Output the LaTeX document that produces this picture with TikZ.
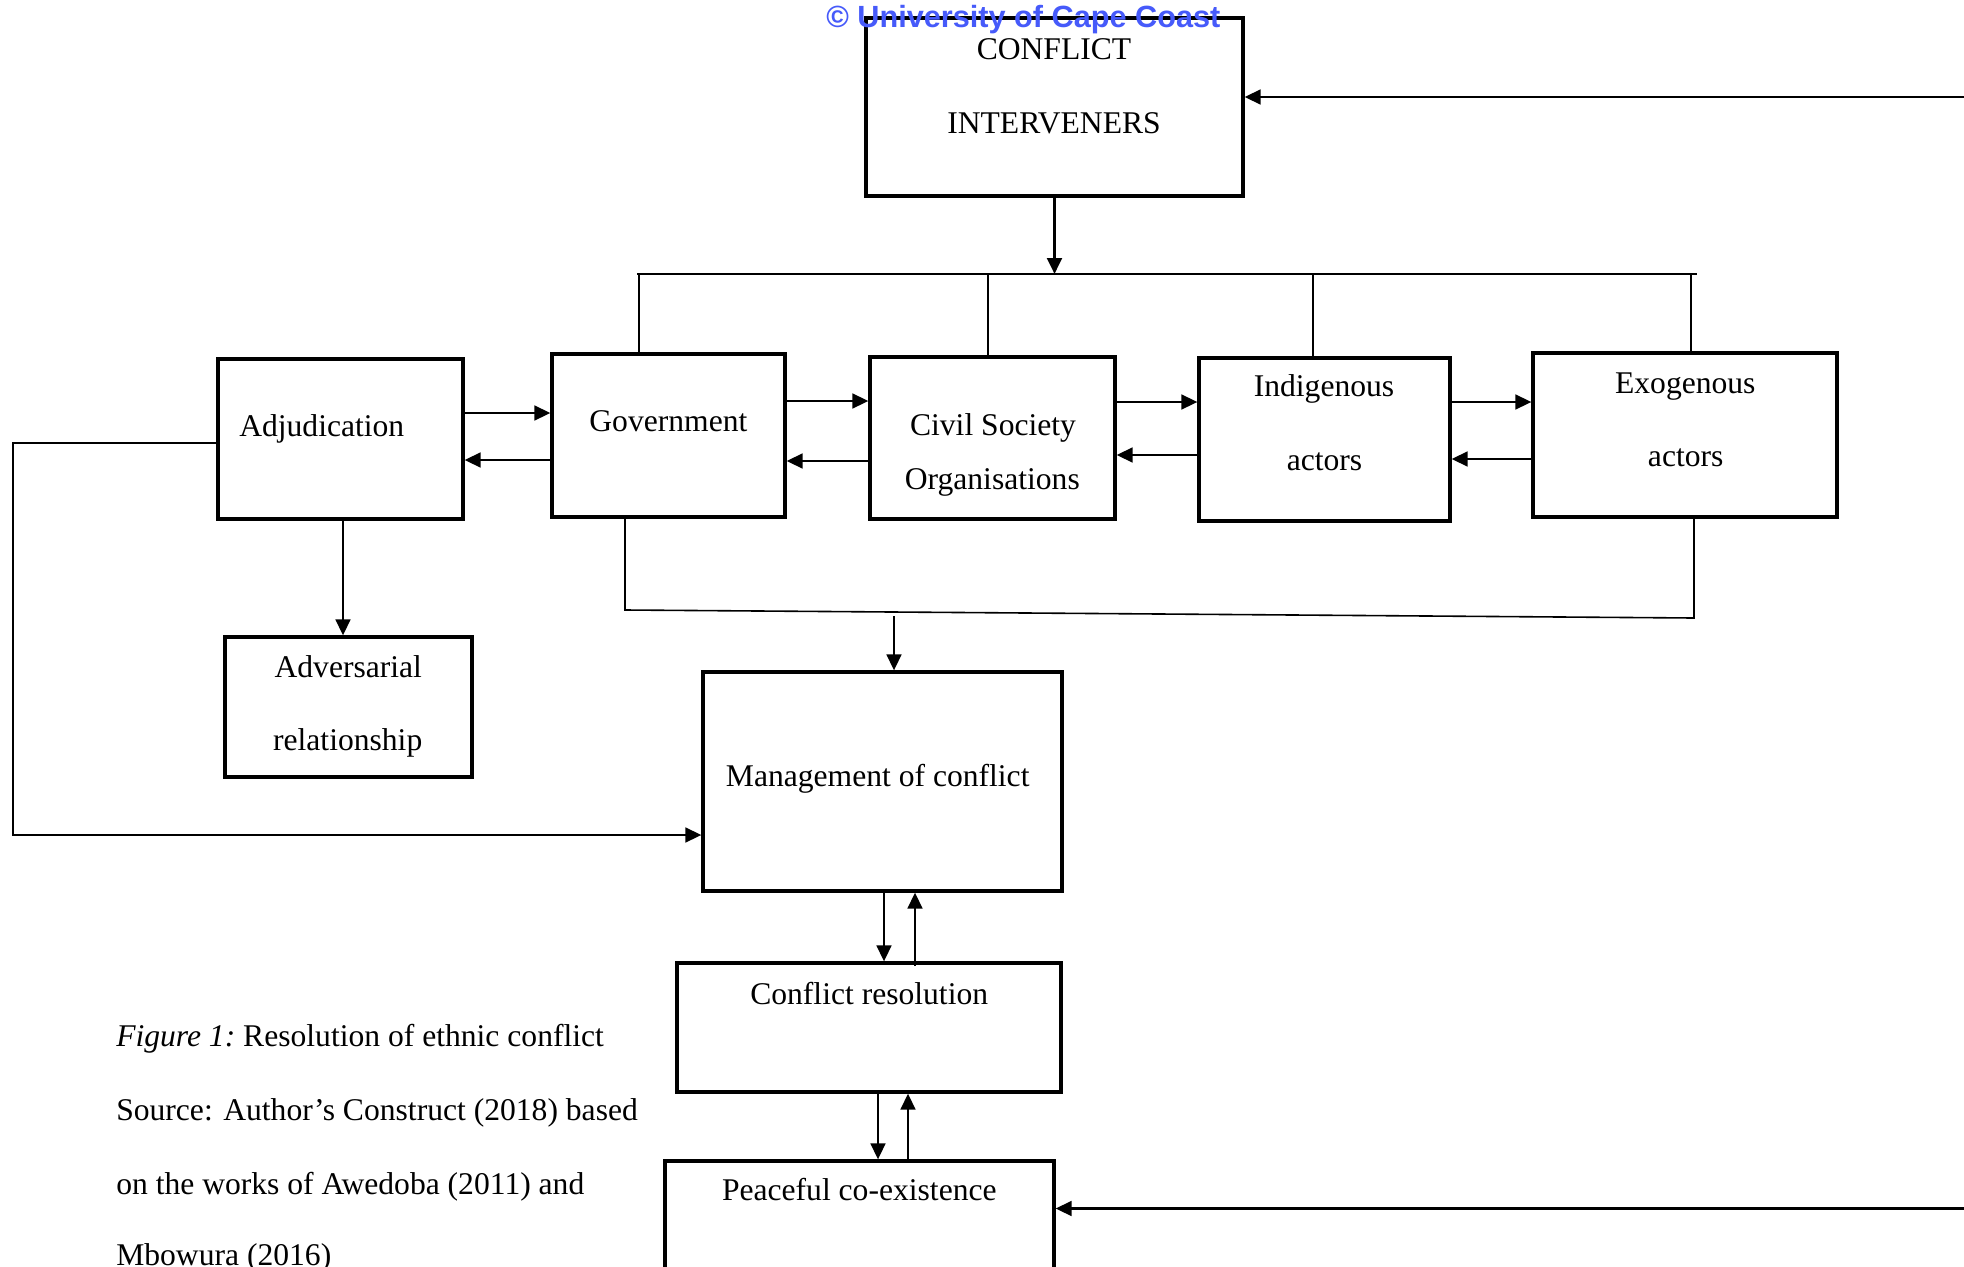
\documentclass[tikz,border=0pt]{standalone}
\usepackage{fontspec}
\setmainfont{Liberation Serif}
\newfontfamily\wmfont{Liberation Sans}
\usetikzlibrary{arrows.meta}
\usetikzlibrary{fit}
\definecolor{wmblue}{RGB}{70,90,250}

\tikzset{
  box/.style={draw, line width=2.4pt, inner sep=0pt},
  lbl/.style={anchor=base, inner sep=0pt, font=\fontsize{23.7}{28}\selectfont},
  arr/.style={line width=1.9pt, -{Triangle[length=12pt,width=11pt]}},
  bus/.style={line width=1.2pt},
}

\begin{document}
\begin{tikzpicture}[x=0.75pt,y=0.75pt,yscale=-1,xscale=1]
\useasboundingbox (0,0) rectangle (1964,1267);
\clip (0,0) rectangle (1964,1267);

%Shape: Rectangle [ci]
\node[box, fit={(866,18) (1243,196)}] (ci) {};
%Shape: Rectangle [adj]
\node[box, fit={(218,359) (463,519)}] (adj) {};
%Shape: Rectangle [gov]
\node[box, fit={(552,354) (785,517)}] (gov) {};
%Shape: Rectangle [cso]
\node[box, fit={(870,357) (1115,519)}] (cso) {};
%Shape: Rectangle [ind]
\node[box, fit={(1199,358) (1450,521)}] (ind) {};
%Shape: Rectangle [exo]
\node[box, fit={(1533,353) (1837,517)}] (exo) {};
%Shape: Rectangle [adv]
\node[box, fit={(225,637) (472,777)}] (adv) {};
%Shape: Rectangle [mgt]
\node[box, fit={(703,672) (1062,891)}] (mgt) {};
%Shape: Rectangle [res]
\node[box, fit={(677,963) (1061,1092)}] (res) {};
%Shape: Rectangle [pce]
\node[box, fit={(665,1161) (1054,1300)}] (pce) {};

% Text Node
\node[lbl] (ci-a) at (1054,59.3) {CONFLICT};
\node[lbl] (ci-b) at (1054,133.3) {INTERVENERS};
\node[lbl, anchor=base west] (adj-t) at (239,436.7) {Adjudication};
\node[lbl] (gov-t) at (668.4,431.7) {Government};
\node[lbl] (cso-a) at (993,435) {Civil Society};
\node[lbl] (cso-b) at (992.3,489.3) {Organisations};
\node[lbl] (ind-a) at (1324,396.7) {Indigenous};
\node[lbl] (ind-b) at (1324.5,470) {actors};
\node[lbl] (exo-a) at (1685.3,393.3) {Exogenous};
\node[lbl] (exo-b) at (1685.7,466) {actors};
\node[lbl] (adv-a) at (348.3,677.3) {Adversarial};
\node[lbl] (adv-b) at (347.7,750) {relationship};
\node[lbl] (mgt-t) at (877.7,786.7) {Management of conflict};
\node[lbl] (res-t) at (869.2,1004) {Conflict resolution};
\node[lbl] (pce-t) at (859.3,1200.7) {Peaceful co-existence};

% Caption
\node[lbl, anchor=base west] (cap1) at (116,1046.7) {\textit{Figure 1:}\ Resolution of ethnic conflict};
\node[lbl, anchor=base west] (cap2) at (116,1120) {Source: Author’s Construct (2018) based};
\node[lbl, anchor=base west] (cap3) at (116,1194.3) {on the works of Awedoba (2011) and};
\node[lbl, anchor=base west] (cap4) at (116,1265) {Mbowura (2016)};

% Interveners to the bus
\coordinate (busL) at (637,274);
\coordinate (busR) at (1697,274);
\draw[arr, line width=2.2pt] (ci.south) -- (ci.south |- busL);
\draw[bus] (busL) -- (busR);
\foreach \x/\n in {639/gov, 988/cso, 1313/ind, 1691/exo}
  \draw[bus] (\x,0 |- busL) -- (\x,0 |- \n.north);

% Feedback into the interveners
\coordinate (ciin) at (1964,97);
\draw[arr] (ciin) -- (ci.east |- ciin);

% Between the actors
\draw[arr] (adj.east |- 0,413) -- (gov.west |- 0,413);
\draw[arr] (gov.west |- 0,460) -- (adj.east |- 0,460);
\draw[arr] (gov.east |- 0,401) -- (cso.west |- 0,401);
\draw[arr] (cso.west |- 0,461) -- (gov.east |- 0,461);
\draw[arr] (cso.east |- 0,402) -- (ind.west |- 0,402);
\draw[arr] (ind.west |- 0,455) -- (cso.east |- 0,455);
\draw[arr] (ind.east |- 0,402) -- (exo.west |- 0,402);
\draw[arr] (exo.west |- 0,459) -- (ind.east |- 0,459);

% Adjudication to adversarial relationship
\draw[arr] (343,0 |- adj.south) -- (343,0 |- adv.north);

% Lower bus to management
\draw[bus] (625,0 |- gov.south) -- (625,610) -- (1694,618) -- (1694,0 |- exo.south);
\draw[arr] (894,616) -- (894,0 |- mgt.north);

% Adjudication round the left to management
\draw[arr] (adj.west |- 0,443) -- (13,443) -- (13,835) -- (mgt.west |- 0,835);

% Management, resolution, co-existence
\draw[arr] (884,0 |- mgt.south) -- (884,0 |- res.north);
\draw[arr] (915,966) -- (915,0 |- mgt.south);
\draw[arr] (878,0 |- res.south) -- (878,0 |- pce.north);
\draw[arr] (908,0 |- pce.north) -- (908,0 |- res.south);

% Feedback into co-existence
\coordinate (pcein) at (1964,1208.5);
\draw[arr] (pcein) -- (pce.east |- pcein);

% Watermark
\node[anchor=base west, inner sep=0pt, text=wmblue, font=\wmfont\bfseries\fontsize{23}{26}\selectfont] (wm) at (826,27) {© University of Cape Coast};

\end{tikzpicture}
\end{document}
